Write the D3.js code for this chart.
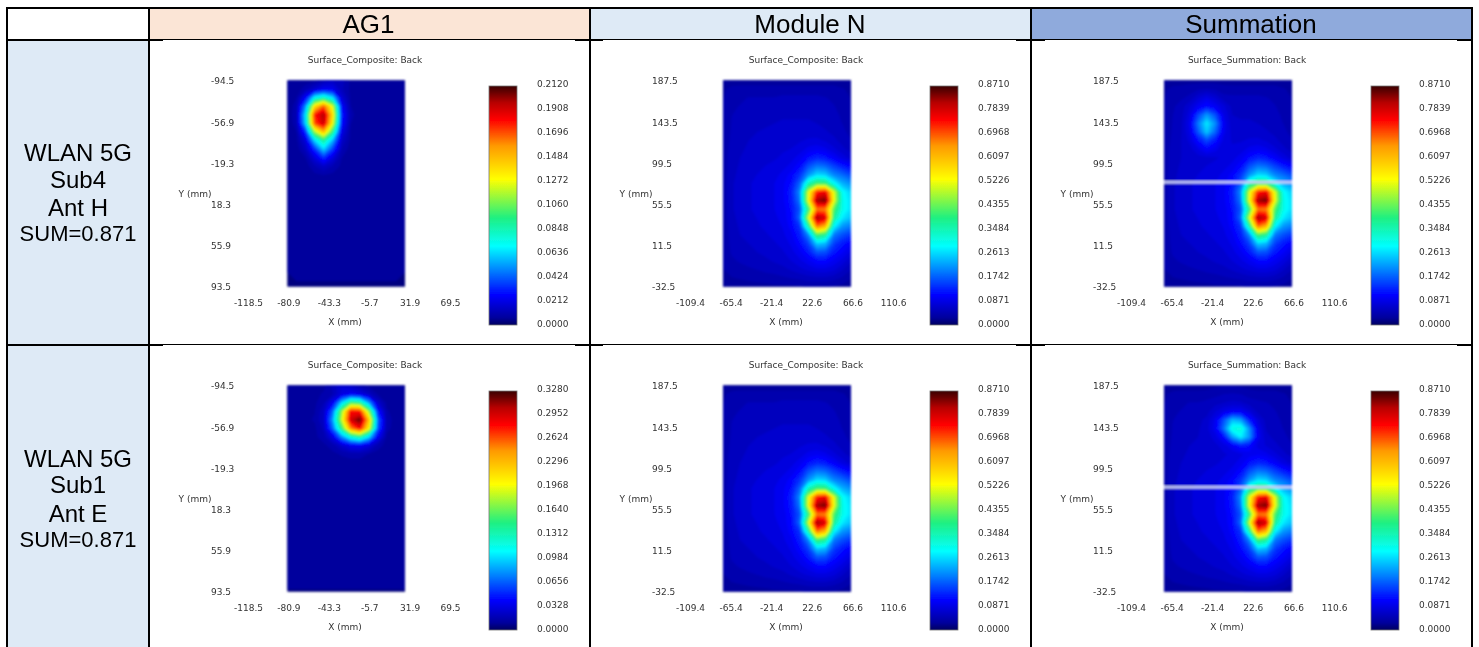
<!DOCTYPE html>
<html>
<head>
<meta charset="utf-8">
<script src="https://cdn.jsdelivr.net/npm/d3@7"></script>
<style>
  html, body { margin: 0; padding: 0; background: #fff; overflow: hidden; }
  svg { display: block; }
  .plot-text text { font-family: "DejaVu Sans", sans-serif; font-size: 9px; fill: #333; }
  .cell-text { font-family: "Liberation Sans", Arial, sans-serif; fill: #000; text-anchor: middle; }
</style>
</head>
<body>
<svg id="chart" width="1479" height="647"></svg>
<script>
// table text
const headers = ["AG1", "Module N", "Summation"];
const rowLabels = [
  ["WLAN 5G", "Sub4", "Ant H", "SUM=0.871"],
  ["WLAN 5G", "Sub1", "Ant E", "SUM=0.871"]
];

// axis ticks (mm)
const xTicksAg = [-118.5, -80.9, -43.3, -5.7, 31.9, 69.5];
const yTicksAg = [-94.5, -56.9, -19.3, 18.3, 55.9, 93.5];
const xTicksMod = [-109.4, -65.4, -21.4, 22.6, 66.6, 110.6];
const yTicksMod = [187.5, 143.5, 99.5, 55.5, 11.5, -32.5];

// colour bar labels
const barSub4 = [0.2120, 0.1908, 0.1696, 0.1484, 0.1272, 0.1060, 0.0848, 0.0636, 0.0424, 0.0212, 0];
const barSub1 = [0.3280, 0.2952, 0.2624, 0.2296, 0.1968, 0.1640, 0.1312, 0.0984, 0.0656, 0.0328, 0];
const barMod = [0.8710, 0.7839, 0.6968, 0.6097, 0.5226, 0.4355, 0.3484, 0.2613, 0.1742, 0.0871, 0];

// surface values, in thousandths
const ag1Sub4 = [
  [7,7,8,9,13,16,15,9,8,8,8,8,8,7],
  [7,8,12,18,25,24,14,9,8,8,8,8,8,7],
  [7,10,28,72,84,66,20,9,8,8,8,8,8,7],
  [7,12,53,140,170,125,28,10,8,8,8,8,8,7],
  [7,13,68,180,200,140,32,11,8,8,8,8,8,7],
  [7,12,64,172,195,130,30,10,8,8,8,8,8,7],
  [7,10,36,115,150,95,23,9,8,8,8,8,8,7],
  [7,9,21,64,92,59,17,9,8,8,8,8,8,7],
  [7,8,15,36,64,38,13,8,8,8,8,8,8,7],
  [7,8,10,21,36,21,10,8,8,8,8,8,8,7],
  [7,8,8,13,17,13,9,8,8,8,8,8,8,7],
  [7,8,8,9,10,9,8,8,8,8,8,8,8,7],
  [7,8,8,8,8,8,8,8,8,8,8,8,8,7],
  [7,8,8,8,8,8,8,8,8,8,8,8,8,7],
  [7,8,8,8,8,8,8,8,8,8,8,8,8,7],
  [7,8,8,8,8,8,8,8,8,8,8,8,8,7],
  [7,8,8,8,8,8,8,8,8,8,8,8,8,7],
  [7,8,8,8,8,8,8,8,8,8,8,8,8,7],
  [7,8,8,8,8,8,8,8,8,8,8,8,8,7],
  [7,8,8,8,8,8,8,8,8,8,8,8,8,7],
  [7,8,8,8,8,8,8,8,8,8,8,8,8,7],
  [7,8,8,8,8,8,8,8,8,8,8,8,8,7],
  [7,8,8,8,8,8,8,8,8,8,8,8,8,7],
  [6,7,7,7,7,7,7,7,7,7,7,7,7,6],
  [6,6,6,6,6,6,6,6,6,6,6,6,6,6]
];
const ag1Sub1 = [
  [12,12,12,13,14,22,30,25,18,14,13,13,13,12],
  [12,13,13,14,16,20,33,40,35,24,15,13,13,12],
  [12,13,13,14,20,40,100,155,145,85,28,14,13,12],
  [12,13,14,15,25,70,175,285,280,175,50,16,13,12],
  [12,13,14,16,26,85,190,300,325,230,70,18,13,12],
  [12,13,14,14,22,70,150,250,285,205,65,17,13,12],
  [12,13,13,14,18,35,80,120,140,100,40,14,13,12],
  [12,13,13,13,14,18,28,38,40,32,18,13,13,12],
  [12,13,13,13,13,14,16,18,18,15,13,13,13,12],
  [12,13,13,13,13,13,13,13,13,13,13,13,13,12],
  [12,13,13,13,13,13,13,13,13,13,13,13,13,12],
  [12,13,13,13,13,13,13,13,13,13,13,13,13,12],
  [12,13,13,13,13,13,13,13,13,13,13,13,13,12],
  [12,13,13,13,13,13,13,13,13,13,13,13,13,12],
  [12,13,13,13,13,13,13,13,13,13,13,13,13,12],
  [12,13,13,13,13,13,13,13,13,13,13,13,13,12],
  [12,13,13,13,13,13,13,13,13,13,13,13,13,12],
  [12,13,13,13,13,13,13,13,13,13,13,13,13,12],
  [12,13,13,13,13,13,13,13,13,13,13,13,13,12],
  [12,13,13,13,13,13,13,13,13,13,13,13,13,12],
  [12,13,13,13,13,13,13,13,13,13,13,13,13,12],
  [12,13,13,13,13,13,13,13,13,13,13,13,13,12],
  [12,13,13,13,13,13,13,13,13,13,13,13,13,12],
  [11,11,11,11,11,11,11,11,11,11,11,11,11,11],
  [10,10,10,10,10,10,10,10,10,10,10,10,10,10]
];
const moduleLower = [
  [46,62,68,72,75,78,80,84,90,102,125,140,130,110,90,76],
  [46,62,70,75,78,82,85,90,100,120,170,200,190,160,135,115],
  [46,64,72,78,82,86,90,100,115,150,220,270,260,210,190,165],
  [46,66,74,80,85,90,95,105,125,185,350,420,410,300,240,215],
  [46,66,74,80,85,90,95,105,135,215,520,740,770,520,300,260],
  [46,66,74,80,85,90,95,105,130,200,530,830,855,530,310,270],
  [46,66,74,80,85,90,95,100,125,175,400,680,670,430,310,270],
  [46,64,72,78,82,88,92,100,120,190,510,835,790,380,280,250],
  [44,62,70,75,80,84,90,96,115,150,360,680,620,290,220,200],
  [44,60,68,72,76,80,85,92,105,135,210,420,380,200,170,150],
  [44,58,64,68,72,76,80,86,98,120,160,260,245,160,130,110],
  [42,56,60,64,68,72,75,80,90,105,130,175,170,130,110,90],
  [42,52,56,60,62,65,70,74,82,92,105,120,120,105,90,70],
  [40,48,50,52,55,58,60,64,70,78,85,92,92,85,70,55],
  [36,40,42,44,46,48,50,52,55,58,62,65,65,60,52,42],
  [30,32,34,35,36,36,38,38,38,40,42,42,42,40,36,32]
];
const moduleUpper = [
  [30,32,35,35,35,35,35,35,35,35,35,35,35,35,32,30],
  [38,45,45,45,45,45,45,45,45,45,45,45,45,45,42,38],
  [40,50,52,55,55,55,55,58,58,58,58,58,55,52,48,40],
  [42,52,55,58,58,60,60,62,62,62,62,60,58,55,50,42],
  [42,54,58,60,62,64,65,66,66,66,66,64,60,58,52,44],
  [42,55,60,62,65,66,68,70,70,70,70,68,64,60,54,46],
  [44,56,62,65,68,70,72,74,74,74,75,75,70,64,58,50],
  [44,58,64,68,70,72,75,78,78,80,84,85,80,72,62,55],
  [46,60,66,70,72,75,78,80,82,88,100,105,98,85,72,62]
];
const sumUpperSub4 = [
  [30,32,35,35,35,35,35,35,35,35,35,35,35,35,32,30],
  [38,45,45,48,52,56,52,46,45,45,45,45,45,45,42,38],
  [40,50,52,58,80,95,80,60,58,58,58,58,55,52,48,40],
  [42,52,60,80,105,125,105,85,64,62,62,60,58,55,50,42],
  [42,54,62,90,160,220,170,95,68,66,66,64,60,58,52,44],
  [42,55,65,100,200,280,215,105,72,70,70,68,64,60,54,46],
  [44,56,66,95,175,255,185,100,76,74,75,75,70,64,58,50],
  [44,58,68,85,125,165,130,90,80,80,84,85,80,72,62,55],
  [46,60,68,75,95,115,100,85,84,88,100,105,98,85,72,62]
];
const sumUpperSub1 = [
  [30,32,35,35,35,35,38,40,40,38,35,35,35,35,32,30],
  [38,45,45,45,45,46,50,54,56,54,48,45,45,45,42,38],
  [40,50,52,55,55,58,62,68,72,70,62,58,55,52,48,40],
  [42,52,55,58,58,62,80,95,105,105,85,64,58,55,50,42],
  [42,54,58,60,64,72,100,170,245,225,135,85,62,58,52,44],
  [42,55,60,62,66,76,105,195,315,325,215,100,66,60,54,46],
  [44,56,62,65,68,74,88,125,225,285,220,105,72,64,58,50],
  [44,58,64,68,70,72,78,88,110,135,125,90,80,72,62,55],
  [46,60,66,70,72,75,78,80,84,92,102,105,98,85,72,62]
];
const moduleN = moduleUpper.concat(moduleLower);
const sumSub4 = sumUpperSub4.concat(moduleLower);
const sumSub1 = sumUpperSub1.concat(moduleLower);

// position of the seam in the summation maps (mm)
const seamY = 78.8;

// jet-like ramp of the colour bars
const rampStops = [0, 0.03, 0.125, 0.33, 0.45, 0.61, 0.75, 0.86, 0.93, 1];
const rampColors = ["#000060", "#00009c", "#0000ff", "#00ffff", "#20f080", "#ffff00", "#ff9900", "#ff0000", "#b80000", "#3a0000"];

const svg = d3.select("#chart");
const defs = svg.append("defs");
const ramp = d3.scaleLinear().domain(rampStops).range(rampColors).interpolate(d3.interpolateRgb);

defs.append("filter").attr("id", "soft").attr("x", "-10%").attr("y", "-10%").attr("width", "120%").attr("height", "120%")
  .append("feGaussianBlur").attr("stdDeviation", 1.2);
defs.append("filter").attr("id", "softText").attr("x", "-5%").attr("y", "-20%").attr("width", "110%").attr("height", "140%")
  .append("feGaussianBlur").attr("stdDeviation", 0.65);

const grad = defs.append("linearGradient").attr("id", "barRamp")
  .attr("x1", 0).attr("x2", 0).attr("y1", 1).attr("y2", 0);
grad.selectAll("stop").data(rampStops).join("stop")
  .attr("offset", d => d)
  .attr("stop-color", d => ramp(d));

// column and row backgrounds
svg.append("rect").attr("x", 149).attr("y", 9).attr("width", 441).attr("height", 31).attr("fill", "#fbe5d6");
svg.append("rect").attr("x", 591).attr("y", 9).attr("width", 440).attr("height", 31).attr("fill", "#deeaf6");
svg.append("rect").attr("x", 1032).attr("y", 9).attr("width", 440).attr("height", 31).attr("fill", "#8faadc");
svg.append("rect").attr("x", 8).attr("y", 41).attr("width", 140).attr("height", 606).attr("fill", "#deeaf6");

const panels = [
  { left: 287.5, right: 405, xr: [248, 450], xt: xTicksAg, yt: yTicksAg, title: "Surface_Composite: Back", tx: 365, xl: 345, yl: 195, ytx: 211, bar: 489, lab: 537 },
  { left: 723, right: 851, xr: [690, 893], xt: xTicksMod, yt: yTicksMod, title: "Surface_Composite: Back", tx: 806, xl: 786, yl: 636, ytx: 652, bar: 930, lab: 978 },
  { left: 1164, right: 1292, xr: [1131, 1334], xt: xTicksMod, yt: yTicksMod, title: "Surface_Summation: Back", tx: 1247, xl: 1227, yl: 1077, ytx: 1093, bar: 1371, lab: 1419, seam: true }
];

const rows = [
  { dy: 0, grids: [ag1Sub4, moduleN, sumSub4], bars: [barSub4, barMod, barMod] },
  { dy: 305, grids: [ag1Sub1, moduleN, sumSub1], bars: [barSub1, barMod, barMod] }
];

function drawPanel(g, p, grid, barVals, id) {
  const top = 80.5, bottom = 286.5;
  const n = grid[0].length, m = grid.length;
  const maxVal = barVals[0] * 1000;
  const x = d3.scaleLinear().domain([p.xt[0], p.xt[5]]).range(p.xr);
  const y = d3.scaleLinear().domain([p.yt[0], p.yt[5]]).range([81, 287]);
  const gx = d3.scaleLinear().domain([0.5, n - 0.5]).range([p.left, p.right]);
  const gy = d3.scaleLinear().domain([0.5, m - 0.5]).range([top, bottom]);

  // surface
  const clipId = "clip" + id;
  g.append("clipPath").attr("id", clipId).append("rect")
    .attr("x", p.left).attr("y", top).attr("width", p.right - p.left).attr("height", bottom - top);
  const map = g.append("g").attr("filter", "url(#soft)").append("g").attr("clip-path", `url(#${clipId})`);
  const thresholds = d3.range(0, 64).map(i => maxVal * i / 64);
  const contours = d3.contours().size([n, m]).smooth(true).thresholds(thresholds)(d3.merge(grid));
  const path = d3.geoPath(d3.geoTransform({
    point(a, b) { this.stream.point(gx(a), gy(b)); }
  }));
  map.selectAll("path").data(contours).join("path")
    .attr("d", path)
    .attr("fill", d => ramp(d.value / maxVal));
  if (p.seam) {
    const mm = d3.scaleLinear().domain([p.yt[0], p.yt[5]]).range([top, bottom]);
    map.append("line")
      .attr("x1", p.left).attr("x2", p.right)
      .attr("y1", mm(seamY)).attr("y2", mm(seamY))
      .attr("stroke", "#c8ccf8").attr("stroke-width", 2.4);
  }

  // colour bar
  const bv = d3.scaleLinear().domain([0, barVals[0]]).range([324, 84]);
  g.append("rect").attr("x", p.bar).attr("y", 86).attr("width", 28).attr("height", 239)
    .attr("fill", "url(#barRamp)").attr("stroke", "#777").attr("stroke-width", 0.8)
    .attr("filter", "url(#softText)");

  // texts
  const t = g.append("g").attr("class", "plot-text").attr("filter", "url(#softText)");
  t.append("text").attr("x", p.tx).attr("y", 63).attr("text-anchor", "middle").text(p.title);
  t.append("text").attr("x", p.xl).attr("y", 324.5).attr("text-anchor", "middle").text("X (mm)");
  t.append("text").attr("x", p.yl).attr("y", 197).attr("text-anchor", "middle").text("Y (mm)");

  const xAxis = t.append("g").attr("transform", "translate(0,300)")
    .call(d3.axisBottom(x).tickValues(p.xt).tickSize(0).tickPadding(0).tickFormat(d => d.toFixed(1)));
  xAxis.select(".domain").remove();
  xAxis.attr("font-family", null).attr("font-size", null);

  const yAxis = t.append("g").attr("transform", `translate(${p.ytx},0)`)
    .call(d3.axisLeft(y).tickValues(p.yt).tickSize(0).tickPadding(0).tickFormat(d => d.toFixed(1)));
  yAxis.select(".domain").remove();
  yAxis.attr("font-family", null).attr("font-size", null);
  yAxis.selectAll("text").attr("text-anchor", "start").attr("x", 0);

  const barAxis = t.append("g").attr("transform", `translate(${p.lab},0)`)
    .call(d3.axisRight(bv).tickValues(barVals).tickSize(0).tickPadding(0).tickFormat(d => d.toFixed(4)));
  barAxis.select(".domain").remove();
  barAxis.attr("font-family", null).attr("font-size", null);
}

rows.forEach((r, ri) => {
  const g = svg.append("g").attr("transform", `translate(0,${r.dy})`);
  panels.forEach((p, pi) => drawPanel(g, p, r.grids[pi], r.bars[pi], `${ri}${pi}`));
});

// table lines
const black = "#000";
function line(x1, y1, x2, y2, w) {
  svg.append("line").attr("x1", x1).attr("y1", y1).attr("x2", x2).attr("y2", y2)
    .attr("stroke", black).attr("stroke-width", w);
}
line(6, 8, 1473, 8, 2);
[7, 149, 590, 1031, 1472].forEach(x => line(x, 7, x, 647, 2));
[40, 345].forEach(y => {
  line(6, y - 0.5, 1473, y - 0.5, 1);
  [[6, 163], [575, 603], [1016, 1045], [1457, 1473]].forEach(s => line(s[0], y, s[1], y, 2));
});

// table text
const headerX = [368.5, 810, 1251];
svg.selectAll(".head").data(headers).join("text")
  .attr("class", "cell-text head")
  .attr("x", (d, i) => headerX[i]).attr("y", 33)
  .attr("font-size", 26).text(d => d);

const lineY = [[161, 188, 216, 241], [467, 493, 522, 547]];
rowLabels.forEach((lines, i) => {
  svg.selectAll(".lab" + i).data(lines).join("text")
    .attr("class", "cell-text lab" + i)
    .attr("x", 78)
    .attr("y", (d, j) => lineY[i][j])
    .attr("font-size", (d, j) => j === 3 ? 22 : 24)
    .text(d => d);
});
</script>
</body>
</html>
